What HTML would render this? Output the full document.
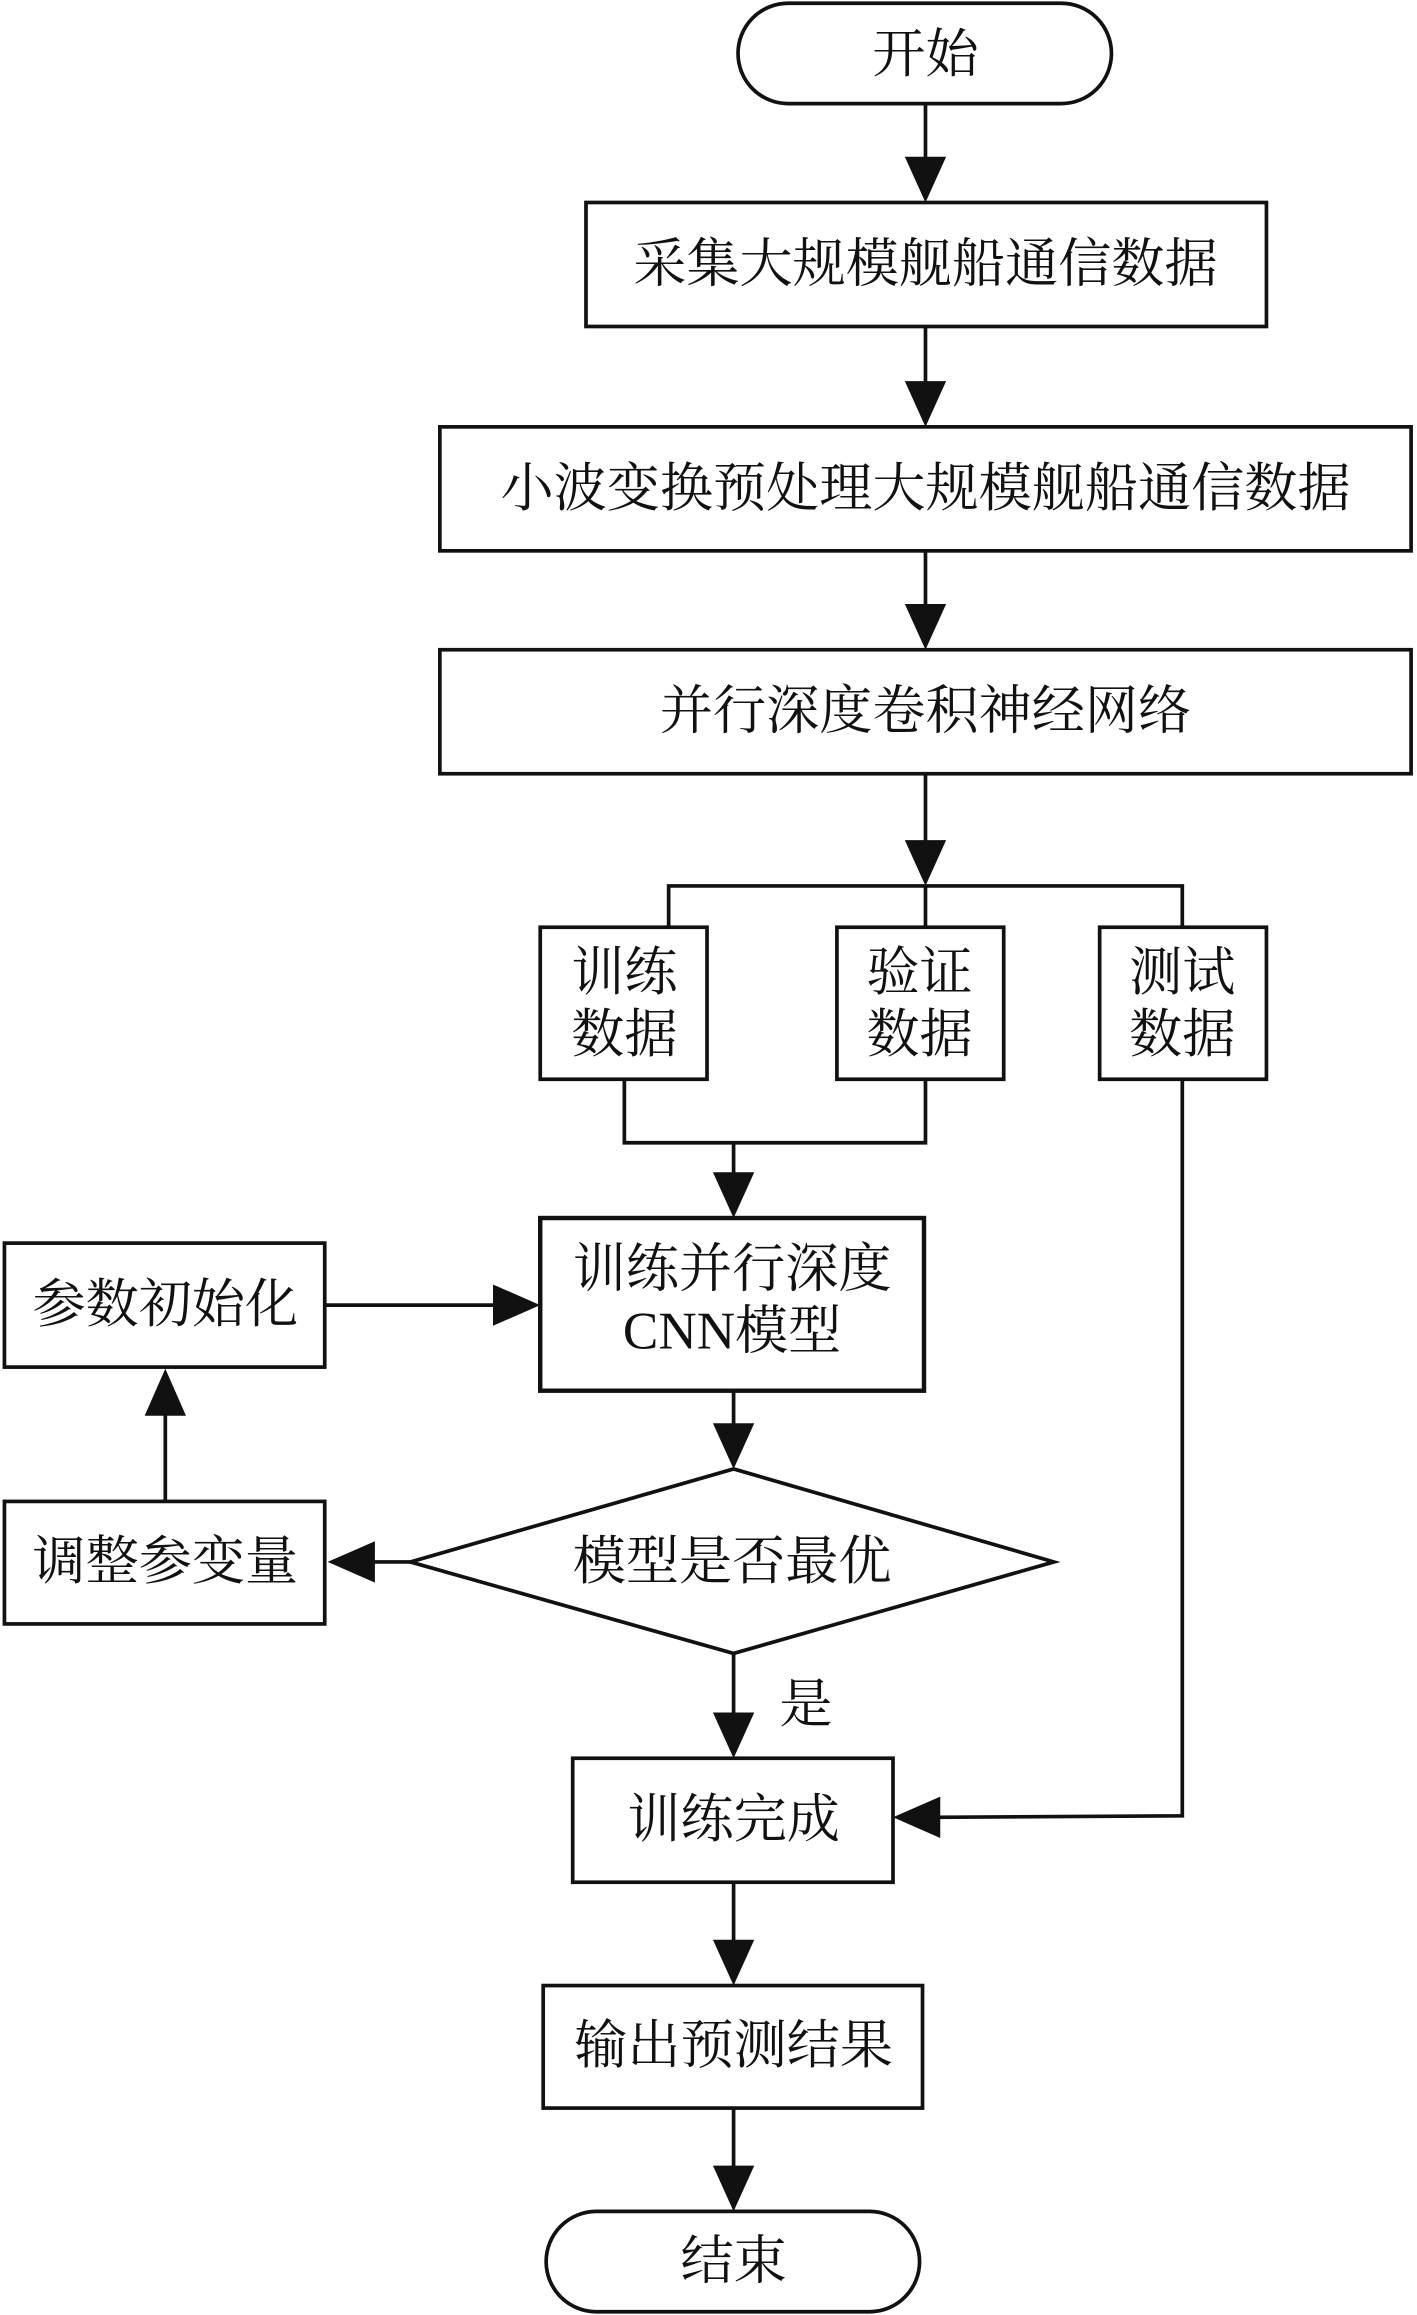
<!DOCTYPE html>
<html><head><meta charset="utf-8"><style>
html,body{margin:0;padding:0;background:#fff;}
svg{display:block;}
text{font-family:"Liberation Serif","Noto Serif CJK SC","Noto Sans CJK SC",serif;font-size:36px;fill:#111;text-anchor:middle;dominant-baseline:central;}
</style></head><body>
<svg width="1417" height="2315" viewBox="0 0 960 1568" xmlns="http://www.w3.org/2000/svg">
<g fill="none" stroke="#111" stroke-width="2.5">
<rect x="500" y="2" width="253" height="68" rx="34"/>
<rect x="397" y="137" width="461" height="84"/>
<rect x="298" y="289" width="658" height="84"/>
<rect x="298" y="440" width="658" height="84"/>
<rect x="366" y="628" width="113" height="103"/>
<rect x="567" y="628" width="113" height="103"/>
<rect x="745" y="628" width="113" height="103"/>
<rect x="366" y="825" width="260" height="117" stroke-width="3"/>
<rect x="3" y="842" width="217" height="84"/>
<polygon points="497,995 714,1058 497,1120 278,1058"/>
<rect x="3" y="1017" width="217" height="83"/>
<rect x="388" y="1191" width="217" height="84"/>
<rect x="368" y="1345" width="257" height="83"/>
<rect x="370" y="1498" width="253" height="68" rx="34"/>
<path d="M627 70V112 M627 221V265 M627 373V415 M627 524V576 M453 628V600H801V628 M627 600V628 M423 731V774H627V731 M497 774V800 M220 884H338 M497 942V970 M278 1058H250 M112 1017V955 M497 1120V1166 M801 731V1230L633 1231 M497 1275V1320 M497 1428V1473"/>
</g>
<g fill="#111">
<polygon points="613,106 641,106 627,137"/>
<polygon points="613,258 641,258 627,289"/>
<polygon points="613,409 641,409 627,440"/>
<polygon points="613,569 641,569 627,600"/>
<polygon points="483,794 511,794 497,825"/>
<polygon points="334,870 334,898 366,884"/>
<polygon points="483,964 511,964 497,995"/>
<polygon points="254,1044 254,1072 222,1058"/>
<polygon points="98,959 126,959 112,927"/>
<polygon points="483,1160 511,1160 497,1191"/>
<polygon points="637,1217 637,1245 605,1231"/>
<polygon points="483,1314 511,1314 497,1345"/>
<polygon points="483,1467 511,1467 497,1498"/>
</g>
<text x="627" y="37">开始</text>
<text x="627" y="179">采集大规模舰船通信数据</text>
<text x="627" y="331">小波变换预处理大规模舰船通信数据</text>
<text x="627" y="482">并行深度卷积神经网络</text>
<text x="423" y="659">训练</text><text x="423" y="701">数据</text>
<text x="623" y="659">验证</text><text x="623" y="701">数据</text>
<text x="801" y="659">测试</text><text x="801" y="701">数据</text>
<text x="496" y="860">训练并行深度</text><text x="496" y="902">CNN模型</text>
<text x="112" y="884">参数初始化</text>
<text x="496" y="1058">模型是否最优</text>
<text x="112" y="1058">调整参变量</text>
<text x="546" y="1155">是</text>
<text x="497" y="1233">训练完成</text>
<text x="497" y="1386">输出预测结果</text>
<text x="497" y="1532">结束</text>
</svg>
</body></html>
